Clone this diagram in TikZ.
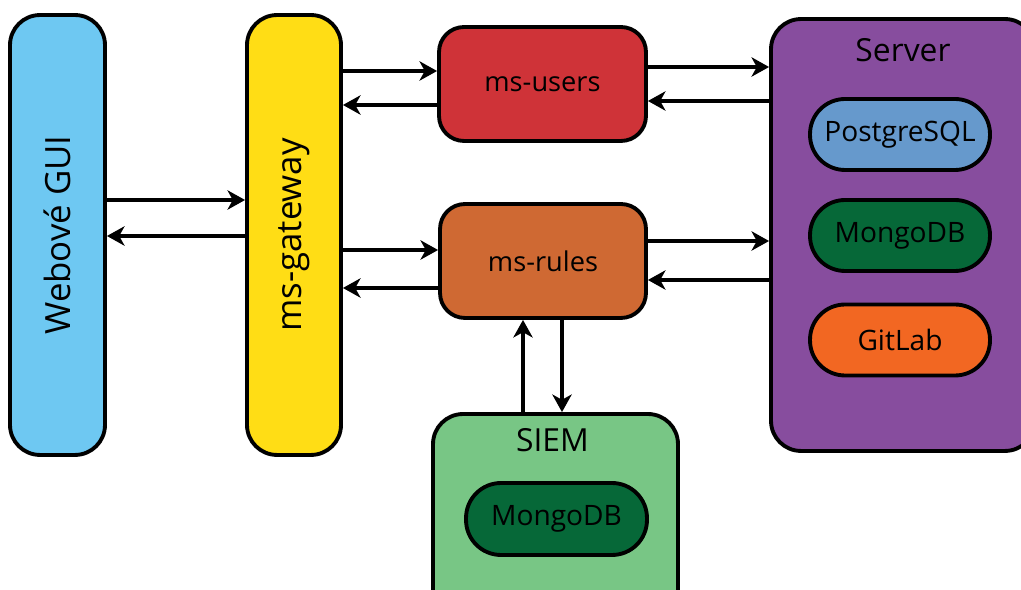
\documentclass[tikz,border=0pt]{standalone}
\usepackage{fontspec}
\setmainfont{Open Sans}
\usepackage{graphicx}
\usetikzlibrary{arrows.meta}
\definecolor{guiblue}{RGB}{110,200,242}
\definecolor{gwyellow}{RGB}{255,221,21}
\definecolor{usersred}{RGB}{207,51,56}
\definecolor{rulesorange}{RGB}{207,105,51}
\definecolor{serverpurple}{RGB}{135,77,158}
\definecolor{pgblue}{RGB}{102,153,204}
\definecolor{mongogreen}{RGB}{6,104,56}
\definecolor{gitorange}{RGB}{242,103,34}
\definecolor{siemgreen}{RGB}{120,198,133}

\begin{document}
\begin{tikzpicture}[x=0.02cm,y=-0.02cm,
  box/.style={draw,line width=2.2pt,rectangle,rounded corners=0.6cm,inner sep=0pt},
  pill/.style={draw,line width=2.2pt,rectangle,rounded corners=0.7cm,inner sep=0pt,
    minimum width=3.6cm,minimum height=1.42cm,font=\fontsize{16}{18}\selectfont},
  arr/.style={-{Stealth[length=10pt,width=11pt,inset=3pt]},line width=2pt}]
\useasboundingbox (0,0) rectangle (1021,590);
% komponenty
\node[box,fill=guiblue,minimum width=1.9cm,minimum height=8.8cm,font=\fontsize{19.8}{22}\selectfont] (gui) at (57.5,235) {\rotatebox{90}{Webové GUI}};
\node[box,fill=gwyellow,minimum width=1.88cm,minimum height=8.8cm,font=\fontsize{19.8}{22}\selectfont] (gateway) at (294,235) {\rotatebox{90}{ms-gateway}};
\node[box,fill=usersred,rounded corners=0.5cm,minimum width=4.14cm,minimum height=2.28cm,font=\fontsize{15.5}{18}\selectfont] (users) at (542.5,84) {ms-users};
\node[box,fill=rulesorange,rounded corners=0.5cm,minimum width=4.12cm,minimum height=2.28cm,font=\fontsize{15.5}{18}\selectfont] (rules) at (543,261) {ms-rules};

% server
\node[box,fill=serverpurple,minimum width=5.28cm,minimum height=8.64cm] (server) at (903,235) {};
\node[font=\fontsize{18.1}{20}\selectfont] (servername) at (903,50) {Server};
\node[pill,fill=pgblue] (pg) at (900,134.5) {PostgreSQL};
\node[pill,fill=mongogreen] (mongo) at (900,235.5) {MongoDB};
\node[pill,fill=gitorange] (gitlab) at (900,340) {GitLab};

% SIEM
\node[box,fill=siemgreen,minimum width=4.9cm,minimum height=4.52cm] (siem) at (555.5,527) {};
\node[font=\fontsize{18.1}{20}\selectfont] (siemname) at (552.5,440) {SIEM};
\node[pill,fill=mongogreen,minimum width=3.62cm,minimum height=1.44cm] (siemdb) at (556.5,519) {MongoDB};

% spojenia
\draw[arr] (gui.east |- 0,200) -- (gateway.west |- 0,200);
\draw[arr] (gateway.west |- 0,236) -- (gui.east |- 0,236);
\draw[arr] (gateway.east |- 0,71) -- (users.west |- 0,71);
\draw[arr] (users.west |- 0,105) -- (gateway.east |- 0,105);
\draw[arr] (gateway.east |- 0,250) -- (rules.west |- 0,250);
\draw[arr] (rules.west |- 0,288) -- (gateway.east |- 0,288);
\draw[arr] (users.east |- 0,67) -- (server.west |- 0,67);
\draw[arr] (server.west |- 0,101) -- (users.east |- 0,101);
\draw[arr] (rules.east |- 0,241) -- (server.west |- 0,241);
\draw[arr] (server.west |- 0,280) -- (rules.east |- 0,280);
\draw[arr] (siem.north -| 523,0) -- (rules.south -| 523,0);
\draw[arr] (rules.south -| 562,0) -- (siem.north -| 562,0);
\end{tikzpicture}
\end{document}
